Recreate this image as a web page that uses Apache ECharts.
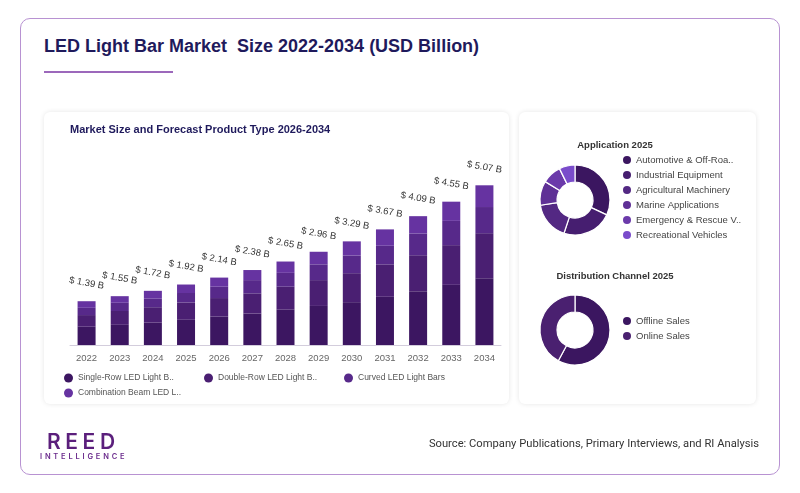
<!DOCTYPE html>
<html>
<head>
<meta charset="utf-8">
<script src="https://cdn.jsdelivr.net/npm/echarts@6/dist/echarts.min.js"></script>
<style>
  html, body { margin:0; padding:0; width:800px; height:493px; background:#fff; overflow:hidden; font-family:"Liberation Sans", Arial, sans-serif; }
  #frame { position:absolute; left:20px; top:18px; width:758px; height:455px; border:1px solid #b892d2; border-radius:10px; }
  #title { position:absolute; left:44px; top:36px; font-size:18px; font-weight:bold; color:#1f1a5c; white-space:pre; }
  #uline { position:absolute; left:44px; top:71px; width:129px; height:2px; background:#9c68bb; }
  .panel { position:absolute; background:#fff; border-radius:6px; box-shadow:0 0 5px rgba(0,0,0,0.10); }
  #p1 { left:44px; top:112px; width:465px; height:292px; }
  #p2 { left:519px; top:112px; width:237px; height:292px; }
  #chart { position:absolute; left:0; top:0; width:800px; height:493px; }
  #logo1 { position:absolute; left:47px; top:429px; font-family:"Inter","Liberation Sans",sans-serif; font-size:21px; font-weight:600; letter-spacing:4.6px; color:#5b1f7c; }
  #logo2 { position:absolute; left:40px; top:452px; font-family:"Inter","Liberation Sans",sans-serif; font-size:7.5px; font-weight:600; letter-spacing:2.8px; color:#6a2a8c; }
  #source { position:absolute; right:41px; top:437px; font-family:"Roboto","Liberation Sans",sans-serif; font-size:11.2px; color:#333; }
</style>
</head>
<body>
<div id="frame"></div>
<div id="title">LED Light Bar Market  Size 2022-2034 (USD Billion)</div>
<div id="uline"></div>
<div class="panel" id="p1"></div>
<div class="panel" id="p2"></div>
<div id="chart"></div>
<div id="logo1">REED</div>
<div id="logo2">INTELLIGENCE</div>
<div id="source">Source: Company Publications, Primary Interviews, and RI Analysis</div>
<script>
// ---- data ----
const years = ['2022','2023','2024','2025','2026','2027','2028','2029','2030','2031','2032','2033','2034'];
const productNames = ['Single-Row LED Light Bars','Double-Row LED Light Bars','Curved LED Light Bars','Combination Beam LED Light Bars'];
const singleRow   = [0.58,0.64,0.71,0.80,0.90,1.00,1.12,1.24,1.36,1.53,1.71,1.91,2.12];
const doubleRow   = [0.37,0.44,0.49,0.55,0.59,0.64,0.73,0.82,0.92,1.03,1.14,1.26,1.43];
const curved      = [0.23,0.26,0.27,0.30,0.36,0.42,0.44,0.50,0.56,0.59,0.69,0.77,0.83];
const combination = [0.21,0.21,0.25,0.27,0.29,0.32,0.36,0.40,0.45,0.52,0.55,0.61,0.69];
const totals      = [1.39,1.55,1.72,1.92,2.14,2.38,2.65,2.96,3.29,3.67,4.09,4.55,5.07];

const appNames  = ['Automotive & Off-Road Vehicles','Industrial Equipment','Agricultural Machinery','Marine Applications','Emergency & Rescue Vehicles','Recreational Vehicles'];
const appValues = [32.0,23.1,17.5,11.2,8.9,7.3];

const channelNames  = ['Offline Sales','Online Sales'];
const channelValues = [57.9,42.1];

// ---- styles ----
const barColors = ['#3c1661','#4a1f72','#57298a','#6633a1'];
const appColors = ['#3b1660','#461e70','#532883','#5f3096','#6b3aaa','#7a4ccb'];
const chColors  = ['#3b1660','#4a2070'];
const sans = '"Liberation Sans",Arial,sans-serif';

const chart = echarts.init(document.getElementById('chart'), null, {renderer:'canvas'});

const seriesData = [singleRow, doubleRow, curved, combination];
const barSeries = seriesData.map((d, i) => ({
  name: productNames[i],
  type: 'bar',
  stack: 'total',
  barWidth: 18,
  data: d,
  itemStyle: { color: barColors[i] },
  label: i === 3 ? {
    show: true,
    position: 'top',
    distance: 18,
    rotate: -10,
    align: 'center',
    verticalAlign: 'middle',
    fontFamily: sans,
    fontSize: 9.5,
    color: '#333',
    formatter: p => '$ ' + totals[p.dataIndex].toFixed(2) + ' B'
  } : { show: false }
}));

chart.setOption({
  animation: false,
  title: [
    { text: 'Market Size and Forecast Product Type 2026-2034', left: 70, top: 124, padding: 0,
      textStyle: { fontSize: 11, fontWeight: 'bold', color: '#1f1a5c', fontFamily: sans } },
    { text: 'Application 2025', left: 615, top: 140, textAlign: 'center', padding: 0,
      textStyle: { fontSize: 9.5, fontWeight: 'bold', color: '#333', fontFamily: sans } },
    { text: 'Distribution Channel 2025', left: 615, top: 271, textAlign: 'center', padding: 0,
      textStyle: { fontSize: 9.5, fontWeight: 'bold', color: '#333', fontFamily: sans } }
  ],
  legend: [
    { data: productNames, left: 64, top: 373, width: 440, orient: 'horizontal', padding: 0,
      icon: 'circle', itemWidth: 9, itemHeight: 9, itemGap: 5,
      itemStyle: { borderWidth: 0 },
      formatter: n => n.length > 22 ? n.slice(0,22) + '..' : n,
      textStyle: { fontSize: 8.5, color: '#555', fontFamily: sans, width: 121, lineHeight: 10 } },
    { data: appNames, left: 623, top: 155, orient: 'vertical', padding: 0,
      icon: 'circle', itemWidth: 8, itemHeight: 8, itemGap: 5,
      itemStyle: { borderWidth: 0 },
      formatter: n => n.length > 24 ? n.slice(0,20) + '..' : n,
      textStyle: { fontSize: 9.5, color: '#444', fontFamily: sans, lineHeight: 10 } },
    { data: channelNames, left: 623, top: 316, orient: 'vertical', padding: 0,
      icon: 'circle', itemWidth: 8, itemHeight: 8, itemGap: 5,
      itemStyle: { borderWidth: 0 },
      textStyle: { fontSize: 9.5, color: '#444', fontFamily: sans, lineHeight: 10 } }
  ],
  grid: { left: 70, right: 299, top: 156, bottom: 148, containLabel: false },
  xAxis: {
    type: 'category', data: years,
    axisLine: { lineStyle: { color: '#d3cddc', width: 1 } },
    axisTick: { show: false },
    axisLabel: { fontSize: 9.5, color: '#666', fontFamily: sans, margin: 8 }
  },
  yAxis: { type: 'value', min: 0, max: 6, show: false, splitLine: { show: false } },
  series: barSeries.concat([
    { type: 'pie', name: 'Application', center: [575, 200], radius: [18, 35], startAngle: 90,
      label: { show: false }, labelLine: { show: false },
      itemStyle: { borderColor: '#fff', borderWidth: 1.2 },
      data: appNames.map((n, i) => ({ name: n, value: appValues[i], itemStyle: { color: appColors[i] } })) },
    { type: 'pie', name: 'Channel', center: [575, 330], radius: [18, 35], startAngle: 90,
      label: { show: false }, labelLine: { show: false },
      itemStyle: { borderColor: '#fff', borderWidth: 1.2 },
      data: channelNames.map((n, i) => ({ name: n, value: channelValues[i], itemStyle: { color: chColors[i] } })) }
  ])
});
</script>
</body>
</html>
